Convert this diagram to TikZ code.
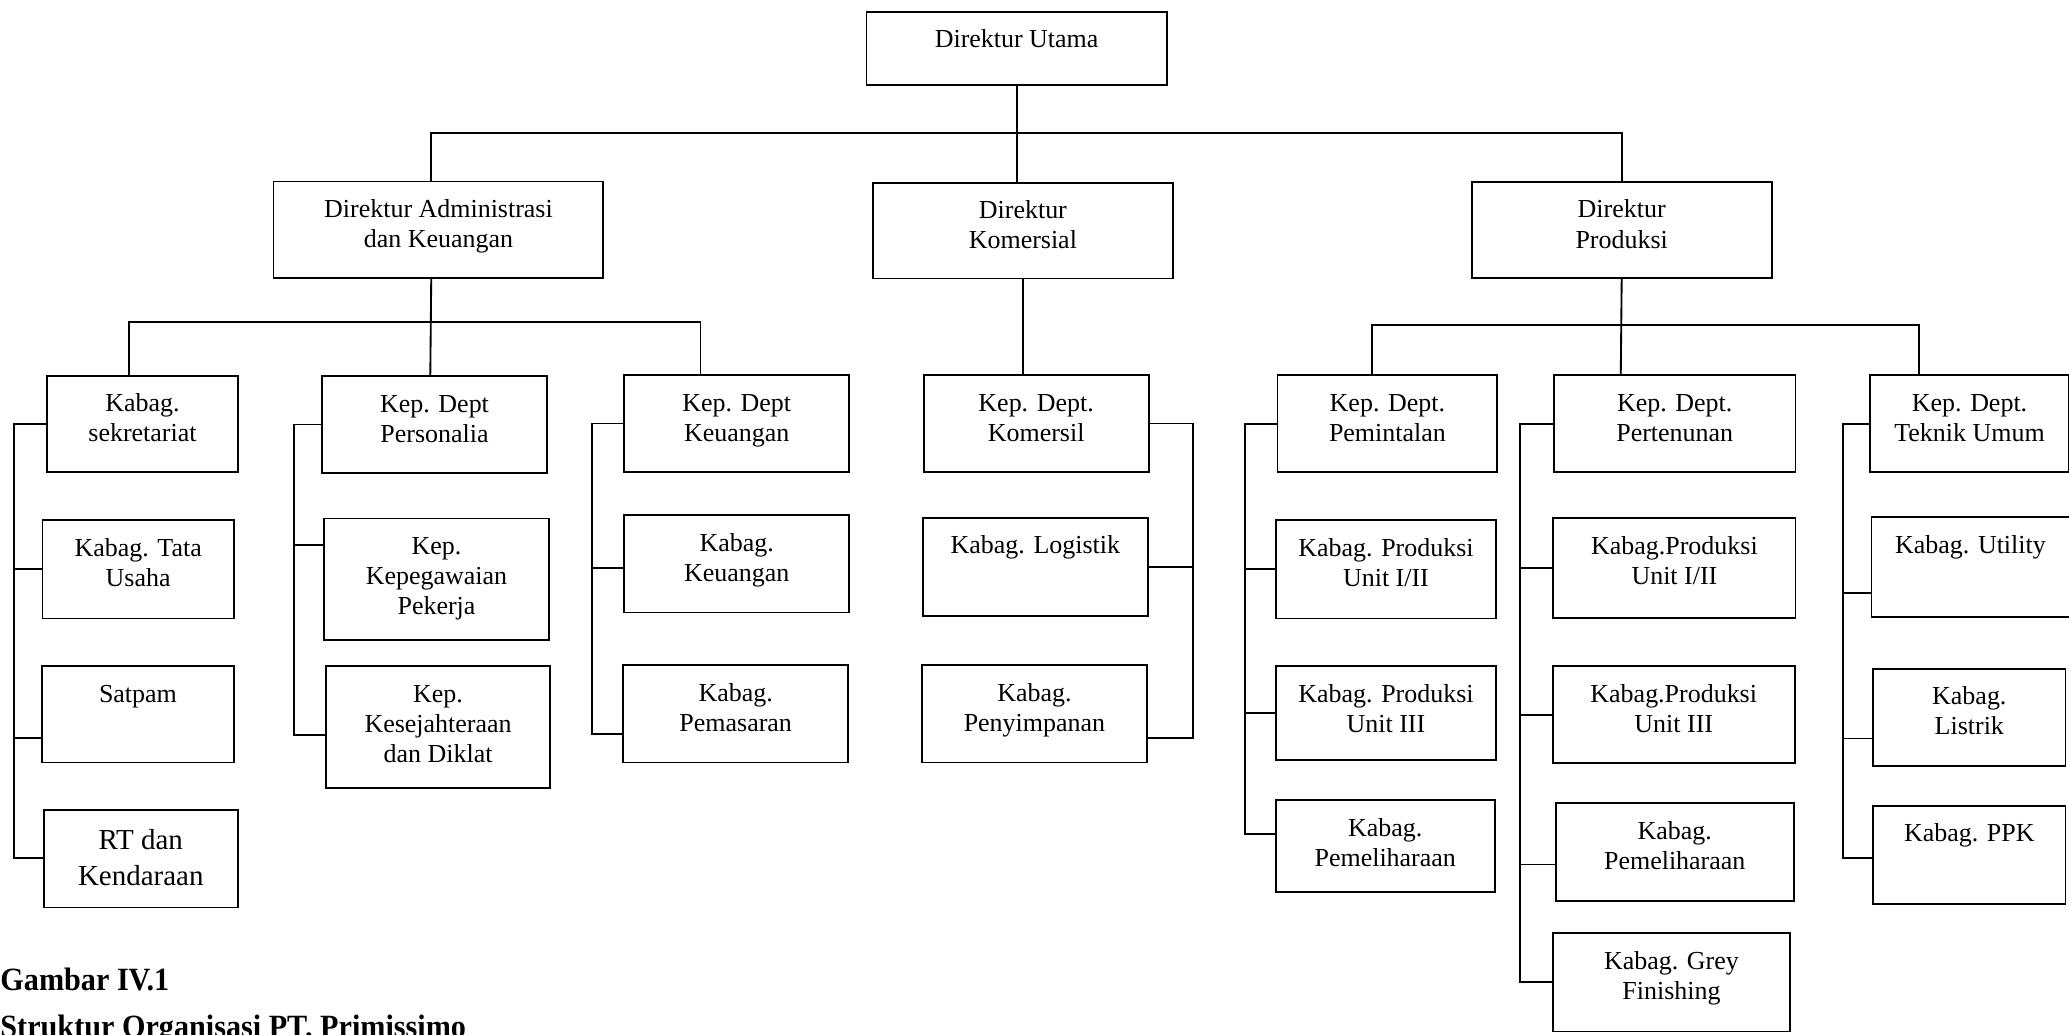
\documentclass[tikz,border=0pt]{standalone}
\usepackage{fontspec}
\setmainfont{Liberation Serif}
\newfontfamily\capfont[FakeStretch=0.93]{Liberation Serif}
\usepackage{tikz}
\usetikzlibrary{calc}
\newlength{\unitpx}
\setlength{\unitpx}{0.02cm}
\newcommand{\unitfont}{\fontsize{11.2pt}{13pt}\selectfont}
\newcommand{\rtfont}{\fontsize{12.5pt}{15.3pt}\selectfont}
\tikzset{
  unit/.style 2 args={draw, line width=0.8pt, anchor=north west, inner sep=0pt, font=\unitfont,
    execute at begin node={\begin{minipage}[t][#2\unitpx][t]{#1\unitpx}\centering\vspace*{6.5pt}\strut},
    execute at end node={\end{minipage}}},
  link/.style={line width=0.8pt},
  caption/.style={anchor=base west, inner sep=0pt, font=\capfont\fontsize{14pt}{16pt}\selectfont\bfseries}
}

\begin{document}
\begin{tikzpicture}[x=0.02cm, y=-0.02cm]
\useasboundingbox[fill=white] (0,0) rectangle (1568,784);

\node[unit={227.5}{55.8}] (du) at (656,8.1) {Direktur Utama};

\node[unit={250}{73.3}] (dadm) at (206.6,136.9) {Direktur Administrasi\\dan Keuangan};
\node[unit={227}{72.7}] (dkom) at (661,137.7) {Direktur\\Komersial};
\node[unit={227.4}{73}] (dprod) at (1114.6,137) {Direktur\\Produksi};

\node[unit={145}{73}] (sek) at (34.8,284) {Kabag.\\sekretariat};
\node[unit={170}{73}] (pers) at (243.6,284.5) {Kep. Dept\\Personalia};
\node[unit={170.5}{73.6}] (keu) at (472.4,283.4) {Kep. Dept\\Keuangan};
\node[unit={170.5}{73.6}] (kom) at (699.3,283.4) {Kep. Dept.\\Komersil};
\node[unit={166.7}{73.7}] (pmt) at (967.4,283.5) {Kep. Dept.\\Pemintalan};
\node[unit={183}{73.7}] (ptn) at (1177,283.5) {Kep. Dept.\\Pertenunan};
\node[unit={151.2}{73.7}] (tek) at (1416.3,283.5) {Kep. Dept.\\Teknik Umum};

\node[unit={145}{74.5}] (tata) at (31.5,393.5) {Kabag. Tata\\Usaha};
\node[unit={145.5}{73}] (satpam) at (31.1,504.2) {Satpam};
\node[unit={147}{73.8}, font=\rtfont] (rt) at (32.5,613.2) {RT dan\\Kendaraan};

\node[unit={171}{92}] (kpg) at (244.6,392.2) {Kep.\\Kepegawaian\\Pekerja};
\node[unit={170}{92}] (ksj) at (246.3,504.2) {Kep.\\Kesejahteraan\\dan Diklat};

\node[unit={170.5}{74}] (kkeu) at (472.4,389.5) {Kabag.\\Keuangan};
\node[unit={170.5}{73.7}] (kpms) at (471.6,503.5) {Kabag.\\Pemasaran};

\node[unit={170.5}{74.4}] (klog) at (698.7,391.6) {Kabag. Logistik};
\node[unit={170.5}{74}] (kspn) at (698,503.2) {Kabag.\\Penyimpanan};

\node[unit={166.3}{74.4}] (pmt1) at (966.5,393.6) {Kabag. Produksi\\Unit I/II};
\node[unit={166.3}{71}] (pmt2) at (966.5,504.3) {Kabag. Produksi\\Unit III};
\node[unit={166}{69.4}] (pmt3) at (966.1,605.8) {Kabag.\\Pemeliharaan};

\node[unit={183.5}{75.7}] (ptn1) at (1176.5,391.9) {Kabag.Produksi\\Unit I/II};
\node[unit={183.5}{73.7}] (ptn2) at (1176,504) {Kabag.Produksi\\Unit III};
\node[unit={180.6}{73.8}] (ptn3) at (1178.2,608.1) {Kabag.\\Pemeliharaan};
\node[unit={179.8}{74.4}] (ptn4) at (1176.1,706.6) {Kabag. Grey\\Finishing};

\node[unit={150}{76}] (tek1) at (1417.6,391) {Kabag. Utility};
\node[unit={145.7}{74}] (tek2) at (1418.9,506) {Kabag.\\Listrik};
\node[unit={145.7}{74.5}] (tek3) at (1418.9,609.8) {Kabag. PPK};

\coordinate (bus1) at (769.75,101);
\coordinate (lbus) at (326.1,244.3);
\coordinate (rbus) at (1228.3,246.2);

\draw[link] ([xshift=-0.11cm]dadm.north) |- (bus1) -| (dprod.north);
\draw[link] (du.south) -- (du.south |- dkom.north);
\draw[link] ([xshift=-0.11cm]dadm.south) -- (lbus |- pers.north);
\draw[link] ([xshift=-0.21cm]sek.north) |- (lbus) -| ([xshift=-0.55cm]keu.north);
\draw[link] (dkom.south) -- (dkom.south |- kom.north);
\draw[link] (dprod.south) -- (rbus |- ptn.north);
\draw[link] ([xshift=-0.24cm]pmt.north) |- (rbus) -| ([xshift=-0.77cm]tek.north);

\coordinate (sekb) at (10.8,650);
\draw[link] (sek.west) -| (sekb) -- (sekb -| rt.west);
\draw[link] (tata.west) -- (tata.west -| sekb);
\draw[link] ([yshift=-0.36cm]satpam.west) -| (sekb);

\coordinate (persb) at (222.6,557.2);
\draw[link] (pers.west) -| (persb) -- (persb -| ksj.west);
\draw[link] ([yshift=0.52cm]kpg.west) -| (persb);

\coordinate (keub) at (448.9,556.5);
\draw[link] (keu.west) -| (keub) -- (keub -| kpms.west);
\draw[link] ([yshift=-0.07cm]kkeu.west) -| (keub);

\coordinate (komb) at (904.4,559);
\draw[link] (kom.east) -| (komb) -- (komb -| kspn.east);
\draw[link] (klog.east) -- (klog.east -| komb);

\coordinate (pmtb) at (943.8,632.3);
\draw[link] (pmt.west) -| (pmtb) -- (pmtb -| pmt3.west);
\draw[link] (pmt1.west) -- (pmt1.west -| pmtb);
\draw[link] (pmt2.west) -- (pmt2.west -| pmtb);

\coordinate (ptnb) at (1151.7,744);
\draw[link] (ptn.west) -| (ptnb) -- (ptnb -| ptn4.west);
\draw[link] (ptn1.west) -- (ptn1.west -| ptnb);
\draw[link] (ptn2.west) -- (ptn2.west -| ptnb);
\draw[link] ([yshift=-0.19cm]ptn3.west) -| (ptnb);

\coordinate (tekb) at (1396.5,650.4);
\draw[link] (tek.west) -| (tekb) -- (tekb -| tek3.west);
\draw[link] ([yshift=-0.39cm]tek1.west) -| (tekb);
\draw[link] ([yshift=-0.32cm]tek2.west) -| (tekb);

\node[caption] (capa) at (0,751) {Gambar IV.1};
\node[caption] (capb) at (0,786) {Struktur Organisasi PT. Primissimo};
\end{tikzpicture}
\end{document}
